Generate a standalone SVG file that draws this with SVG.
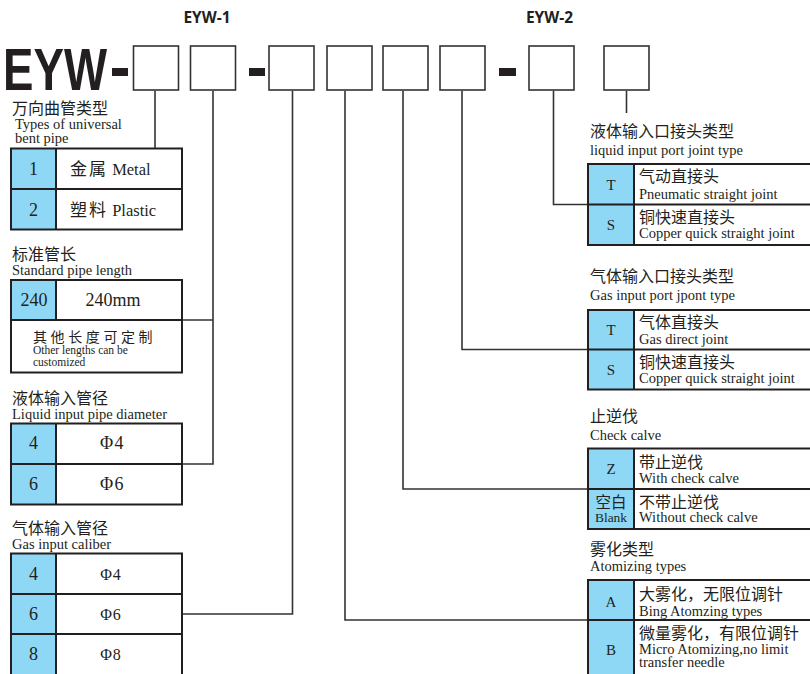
<svg xmlns="http://www.w3.org/2000/svg" width="810" height="674" viewBox="0 0 810 674">
<defs>
<style>
.bg{fill:#ffffff}
.blue{fill:#8ed8f6}
.tbl{fill:none;stroke:#231f20;stroke-width:2}
.tl{stroke:#231f20;stroke-width:2}
.hb{fill:#ffffff;stroke:#333333;stroke-width:1.6}
.dash{fill:#231f20}
.con{fill:none;stroke:#333333;stroke-width:1.6}
.cn{font-family:"Noto Sans CJK SC","Noto Sans",sans-serif;fill:#231f20}
.sf{font-family:"Liberation Serif","DejaVu Serif",serif;fill:#231f20}
.hd{font-family:"Open Sans","Liberation Sans",sans-serif;font-weight:bold;fill:#231f20}
.mid{text-anchor:middle}
</style>
</defs>
<rect class="bg" x="0" y="0" width="810" height="674"/>

<g id="header">
<text class="hd" x="207" y="23" font-size="15.5" text-anchor="middle">EYW-1</text>
<text class="hd" x="549.5" y="23" font-size="15.5" text-anchor="middle">EYW-2</text>
<text x="3" y="90" font-family="Liberation Sans,Arial,sans-serif" font-weight="bold" font-size="59" textLength="104" lengthAdjust="spacingAndGlyphs" fill="#231f20">EYW</text>
<rect class="dash" x="112" y="68" width="16" height="8"/>
<rect class="dash" x="249" y="68" width="16" height="8"/>
<rect class="dash" x="499" y="68" width="17" height="8"/>
</g>

<g id="box1"><rect class="hb" x="133.5" y="46" width="45" height="44"/></g>
<g id="box2"><rect class="hb" x="190.5" y="46" width="45" height="44"/></g>
<g id="box3"><rect class="hb" x="269" y="46" width="45" height="44"/></g>
<g id="box4"><rect class="hb" x="327" y="46" width="45" height="44"/></g>
<g id="box5"><rect class="hb" x="383" y="46" width="45" height="44"/></g>
<g id="box6"><rect class="hb" x="440" y="46" width="45" height="44"/></g>
<g id="box7"><rect class="hb" x="529" y="46" width="45" height="44"/></g>
<g id="box8"><rect class="hb" x="604" y="46" width="45" height="44"/></g>

<g id="connectors">
<path class="con" d="M155 90.8V148"/>
<path class="con" d="M213 90.8V464H182M182 320H213"/>
<path class="con" d="M292.5 90.8V614H182"/>
<path class="con" d="M345 90.8V620H588"/>
<path class="con" d="M403 90.8V489H588"/>
<path class="con" d="M462 90.8V349.5H588"/>
<path class="con" d="M553.5 90.8V204.5H588"/>
<path class="con" d="M626.5 90.8V113"/>
</g>

<g id="t-bent-pipe">
<text class="cn" x="12" y="114" font-size="16">万向曲管类型</text>
<text class="sf" x="15" y="128.5" font-size="14.5">Types of universal</text>
<text class="sf" x="15" y="142.5" font-size="14.5">bent pipe</text>
<rect class="blue" x="11" y="148.5" width="45" height="81"/>
<rect class="tbl" x="11" y="148.5" width="171" height="81"/>
<line class="tl" x1="11" y1="189" x2="182" y2="189"/>
<line class="tl" x1="56" y1="148.5" x2="56" y2="229.5"/>
<text class="sf mid" x="33.5" y="175" font-size="18">1</text>
<text class="sf mid" x="33.5" y="216" font-size="18">2</text>
<text x="70" y="175"><tspan class="cn" font-size="17" letter-spacing="2">金属</tspan><tspan class="sf" font-size="16.5"> Metal</tspan></text>
<text x="70" y="216"><tspan class="cn" font-size="17" letter-spacing="2">塑料</tspan><tspan class="sf" font-size="16.5"> Plastic</tspan></text>
</g>

<g id="t-pipe-length">
<text class="cn" x="12" y="260" font-size="16">标准管长</text>
<text class="sf" x="12" y="274.5" font-size="14.5">Standard pipe length</text>
<rect class="blue" x="11" y="280" width="45" height="40"/>
<rect class="tbl" x="11" y="280" width="171" height="92.5"/>
<line class="tl" x1="11" y1="320" x2="182" y2="320"/>
<line class="tl" x1="56" y1="280" x2="56" y2="320"/>
<text class="sf mid" x="34" y="306" font-size="18">240</text>
<text class="sf mid" x="113" y="306" font-size="18">240mm</text>
<text class="cn" x="33" y="342" font-size="14" letter-spacing="3.6">其他长度可定制</text>
<text class="sf" x="33" y="353.5" font-size="11.5">Other lengths can be</text>
<text class="sf" x="33" y="365.5" font-size="11.5">customized</text>
</g>

<g id="t-liquid-pipe">
<text class="cn" x="12" y="404" font-size="16">液体输入管径</text>
<text class="sf" x="12" y="418.5" font-size="14.5">Liquid input pipe diameter</text>
<rect class="blue" x="11" y="423.5" width="45" height="81"/>
<rect class="tbl" x="11" y="423.5" width="171" height="81"/>
<line class="tl" x1="11" y1="464" x2="182" y2="464"/>
<line class="tl" x1="56" y1="423.5" x2="56" y2="504.5"/>
<text class="sf mid" x="33.5" y="449" font-size="18">4</text>
<text class="sf mid" x="33.5" y="489.5" font-size="18">6</text>
<text class="sf mid" x="112.5" y="449" font-size="18" letter-spacing="1.5">Φ4</text>
<text class="sf mid" x="112.5" y="489.5" font-size="18" letter-spacing="1.5">Φ6</text>
</g>

<g id="t-gas-caliber">
<text class="cn" x="12" y="534" font-size="16">气体输入管径</text>
<text class="sf" x="12" y="548.5" font-size="14.5">Gas input caliber</text>
<rect class="blue" x="11" y="553.5" width="45" height="130"/>
<rect class="tbl" x="11" y="553.5" width="171" height="130"/>
<line class="tl" x1="11" y1="594" x2="182" y2="594"/>
<line class="tl" x1="11" y1="634" x2="182" y2="634"/>
<line class="tl" x1="56" y1="553.5" x2="56" y2="683.5"/>
<text class="sf mid" x="33.5" y="579.5" font-size="18">4</text>
<text class="sf mid" x="33.5" y="620" font-size="18">6</text>
<text class="sf mid" x="33.5" y="660" font-size="18">8</text>
<text class="sf mid" x="111" y="579.5" font-size="16" letter-spacing="1">Φ4</text>
<text class="sf mid" x="111" y="620" font-size="16" letter-spacing="1">Φ6</text>
<text class="sf mid" x="111" y="660" font-size="16" letter-spacing="1">Φ8</text>
</g>

<g id="t-liquid-joint">
<text class="cn" x="590" y="137" font-size="16">液体输入口接头类型</text>
<text class="sf" x="590" y="155" font-size="14.5">liquid input port joint type</text>
<rect class="blue" x="588" y="164" width="46" height="81"/>
<rect class="tbl" x="588" y="164" width="230" height="81"/>
<line class="tl" x1="588" y1="204.5" x2="818" y2="204.5"/>
<line class="tl" x1="634" y1="164" x2="634" y2="245"/>
<text class="sf mid" x="611" y="190" font-size="15">T</text>
<text class="sf mid" x="611" y="230" font-size="15">S</text>
<text class="cn" x="639" y="182" font-size="16">气动直接头</text>
<text class="sf" x="639" y="198.5" font-size="14.5">Pneumatic straight joint</text>
<text class="cn" x="639" y="222.5" font-size="16">铜快速直接头</text>
<text class="sf" x="639" y="238" font-size="14.5">Copper quick straight joint</text>
</g>

<g id="t-gas-joint">
<text class="cn" x="590" y="282" font-size="16">气体输入口接头类型</text>
<text class="sf" x="590" y="300" font-size="14.5">Gas input port jpont type</text>
<rect class="blue" x="588" y="310" width="46" height="79.5"/>
<rect class="tbl" x="588" y="310" width="230" height="79.5"/>
<line class="tl" x1="588" y1="349.5" x2="818" y2="349.5"/>
<line class="tl" x1="634" y1="310" x2="634" y2="389.5"/>
<text class="sf mid" x="611" y="335" font-size="15">T</text>
<text class="sf mid" x="611" y="375" font-size="15">S</text>
<text class="cn" x="639" y="327.5" font-size="16">气体直接头</text>
<text class="sf" x="639" y="344" font-size="14.5">Gas direct joint</text>
<text class="cn" x="639" y="367.5" font-size="16">铜快速直接头</text>
<text class="sf" x="639" y="382.5" font-size="14.5">Copper quick straight joint</text>
</g>

<g id="t-check-valve">
<text class="cn" x="590" y="422" font-size="16">止逆伐</text>
<text class="sf" x="590" y="439.5" font-size="14.5">Check calve</text>
<rect class="blue" x="588" y="448.5" width="46" height="80.5"/>
<rect class="tbl" x="588" y="448.5" width="230" height="80.5"/>
<line class="tl" x1="588" y1="489" x2="818" y2="489"/>
<line class="tl" x1="634" y1="448.5" x2="634" y2="529"/>
<text class="sf mid" x="611" y="473.5" font-size="15">Z</text>
<text class="cn mid" x="611" y="507.5" font-size="15.5">空白</text>
<text class="sf mid" x="611" y="522" font-size="13.5">Blank</text>
<text class="cn" x="639" y="467.5" font-size="16">带止逆伐</text>
<text class="sf" x="639" y="483" font-size="14.5">With check calve</text>
<text class="cn" x="639" y="507.5" font-size="16">不带止逆伐</text>
<text class="sf" x="639" y="522" font-size="14.5">Without check calve</text>
</g>

<g id="t-atomizing">
<text class="cn" x="590" y="555" font-size="16">雾化类型</text>
<text class="sf" x="590" y="570.5" font-size="14.5">Atomizing types</text>
<rect class="blue" x="588" y="580" width="46" height="104"/>
<rect class="tbl" x="588" y="580" width="230" height="104"/>
<line class="tl" x1="588" y1="620" x2="818" y2="620"/>
<line class="tl" x1="634" y1="580" x2="634" y2="684"/>
<text class="sf mid" x="611" y="607" font-size="15">A</text>
<text class="sf mid" x="611" y="655" font-size="15">B</text>
<text class="cn" x="639" y="599.5" font-size="16">大雾化，无限位调针</text>
<text class="sf" x="639" y="615.5" font-size="14.5">Bing Atomzing types</text>
<text class="cn" x="639" y="638.5" font-size="16">微量雾化，有限位调针</text>
<text class="sf" x="639" y="653.5" font-size="14.5">Micro Atomizing,no limit</text>
<text class="sf" x="639" y="666.5" font-size="14.5">transfer needle</text>
</g>
</svg>
